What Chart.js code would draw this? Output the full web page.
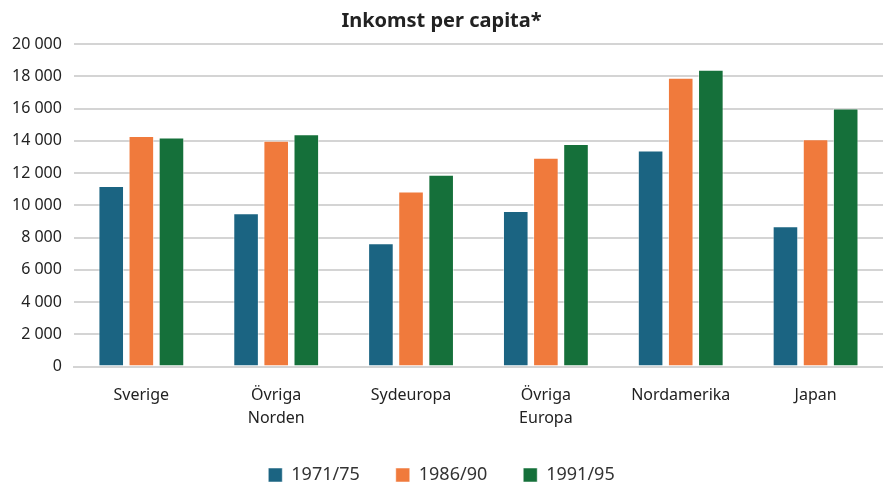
<!DOCTYPE html>
<html>
<head>
<meta charset="utf-8">
<script src="https://cdn.jsdelivr.net/npm/chart.js@4"></script>
<style>
    html, body { margin: 0; padding: 0; background: #fff; }
    .wrap { width: 883px; height: 486px; }
</style>
</head>
<body>
<div class="wrap"><canvas id="incomeChart"></canvas></div>
<script>
const categories = [
    "Sverige",
    ["Övriga", "Norden"],
    "Sydeuropa",
    ["Övriga", "Europa"],
    "Nordamerika",
    "Japan",
];
const seriesNames = ["1971/75", "1986/90", "1991/95"];
const values7175 = [11200, 9500, 7650, 9650, 13400, 8700];
const values8690 = [14300, 14000, 10850, 12950, 17900, 14100];
const values9195 = [14200, 14400, 11900, 13800, 18400, 16000];
const colors = ["#1B6482", "#F07A3C", "#15703A"];

const FONT = "'Noto Sans', Roboto, sans-serif";

document.addEventListener("DOMContentLoaded", () => {
    const ctx = document.getElementById("incomeChart").getContext("2d");
    const series = [values7175, values8690, values9195];

    const datasets = series.map((data, i) => ({
        label: seriesNames[i],
        data,
        backgroundColor: colors[i],
        borderColor: "rgba(255,255,255,0.5)",
        borderWidth: 1,
        categoryPercentage: 0.67,
        barPercentage: 0.85,
    }));

    new Chart(ctx, {
        type: "bar",
        data: { labels: categories, datasets },
        options: {
            responsive: true,
            maintainAspectRatio: false,
            animation: false,
            layout: { padding: { left: 0, right: 0, top: 0, bottom: -8 } },
            plugins: {
                title: {
                    display: true,
                    text: "Inkomst per capita*",
                    color: "#222",
                    font: { family: FONT, size: 20, weight: "bold" },
                    padding: { top: 9, bottom: 11 },
                },
                legend: {
                    position: "bottom",
                    labels: {
                        color: "#333",
                        font: { family: FONT, size: 18 },
                        boxWidth: 14,
                        boxHeight: 14,
                        padding: 36,
                    },
                },
                tooltip: { enabled: false },
            },
            scales: {
                y: {
                    min: 0,
                    max: 20000,
                    ticks: {
                        stepSize: 2000,
                        color: "#222",
                        font: { family: FONT, size: 16 },
                        padding: 12,
                        callback: (v) => String(v).replace(/\B(?=(\d{3})+(?!\d))/g, " "),
                    },
                    grid: { color: "#d4d4d4", lineWidth: 2, drawTicks: false },
                    border: { display: false },
                },
                x: {
                    ticks: {
                        color: "#222",
                        font: { family: FONT, size: 16, lineHeight: 1.45 },
                        padding: 9,
                    },
                    grid: { display: false },
                    border: { color: "#d4d4d4", width: 2 },
                    // labels may hang into the gap above the legend
                    afterFit: (scale) => { scale.height -= 9; },
                },
            },
        },
    });
});
</script>
</body>
</html>
